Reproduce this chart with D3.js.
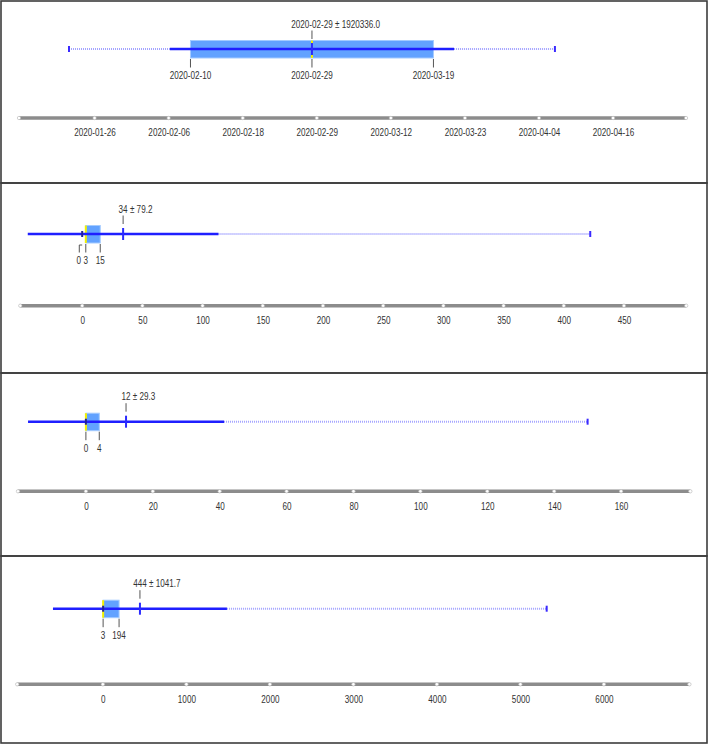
<!DOCTYPE html>
<html>
<head>
<meta charset="utf-8">
<script src="https://cdn.jsdelivr.net/npm/d3@7"></script>
<style>
body { margin: 0; background: #fff; }
text { font-family: "Liberation Sans", Arial, sans-serif; font-size: 11px; fill: #333; }
</style>
</head>
<body>
<script>
// one row per panel; the first panel holds dates (std in seconds)
var isDate = [true, false, false, false];
var mins = ["2020-01-22", 0, 0, 3];
var q1s = ["2020-02-10", 3, 0, 3];
var medians = ["2020-02-29", 3, 0, 3];
var q3s = ["2020-03-19", 15, 4, 194];
var maxs = ["2020-04-07", 422, 150, 5315];
var means = ["2020-02-29", 34, 12, 444];
var stds = [1920336.0, 79.2, 29.3, 1041.7];
var boxLabels = [
    ["2020-02-10", "2020-02-29", "2020-03-19"],
    [0, 3, 15],
    [0, 4],
    [3, 194]
];
var axisDomains = [
    ["2020-01-14T04:20", "2020-04-27T12:00"],
    [-51.4, 501.7],
    [-20.3, 180.7],
    [-1026, 7024]
];
var tickValues = [
    ["2020-01-26T00:00", "2020-02-06T14:02", "2020-02-18T04:05", "2020-02-29T18:07",
     "2020-03-12T08:10", "2020-03-23T22:12", "2020-04-04T12:14", "2020-04-16T02:17"],
    [0, 50, 100, 150, 200, 250, 300, 350, 400, 450],
    [0, 20, 40, 60, 80, 100, 120, 140, 160],
    [0, 1000, 2000, 3000, 4000, 5000, 6000]
];

// layout
var width = 708, height = 744;
var panelTop = [1, 183, 373, 556], panelBottom = 743;
var lineY = [49, 234, 421.7, 608.7];
var axisY = [118, 305.7, 491.3, 684.3];
var axisRange = [[19, 686], [20.3, 686.2], [18, 690.3], [17.2, 689.4]];
var squeeze = 0.74; // narrow the glyphs like the condensed original font

var fmtDate = d3.timeFormat("%Y-%m-%d");
var fmtInt = d3.format("d");
var fmtStd = d3.format(".1f");

var svg = d3.select("body")
    .append("svg")
    .attr("width", width)
    .attr("height", height);

svg.append("rect").attr("width", width).attr("height", height).attr("fill", "#fff");

function label(g, x, y, str) {
    return g.append("text")
        .attr("transform", "translate(" + x + "," + y + ") scale(" + squeeze + ",1)")
        .attr("text-anchor", "middle")
        .text(str);
}

for (var i = 0; i < 4; i++) {
    var dt = isDate[i];
    var val = dt ? function (v) { return new Date(v); } : function (v) { return v; };
    var x = (dt ? d3.scaleTime() : d3.scaleLinear())
        .domain(axisDomains[i].map(val))
        .range(axisRange[i]);
    var y = lineY[i];
    var g = svg.append("g");

    // panel frame
    var bottom = i < 3 ? panelTop[i + 1] : panelBottom;
    g.append("rect")
        .attr("x", 1).attr("y", panelTop[i])
        .attr("width", width - 2).attr("height", bottom - panelTop[i])
        .attr("fill", "none").attr("stroke", "#3c3c3c").attr("stroke-width", 1.6);

    var mean = val(means[i]);
    var lo = dt ? new Date(+mean - stds[i] * 1000) : mean - stds[i];
    var hi = dt ? new Date(+mean + stds[i] * 1000) : mean + stds[i];
    var mn = val(mins[i]), mx = val(maxs[i]);

    // box
    g.append("rect")
        .attr("x", x(val(q1s[i])))
        .attr("y", y - 8.5)
        .attr("width", x(val(q3s[i])) - x(val(q1s[i])))
        .attr("height", 17.5)
        .attr("fill", "#62a2ff")
        .attr("stroke", "#a4cbff")
        .attr("stroke-width", 1);
    g.append("line")
        .attr("x1", x(val(medians[i]))).attr("x2", x(val(medians[i])))
        .attr("y1", y - 8.5).attr("y2", y + 9)
        .attr("stroke", "#f2f200").attr("stroke-width", 2);

    // dotted whiskers to min / max
    if (mn < lo) {
        g.append("line")
            .attr("x1", x(mn)).attr("x2", x(lo)).attr("y1", y).attr("y2", y)
            .attr("stroke", "#a4a4ff").attr("stroke-width", 2).attr("stroke-dasharray", "1 1");
    }
    if (mx > hi) {
        g.append("line")
            .attr("x1", x(hi)).attr("x2", x(mx)).attr("y1", y).attr("y2", y)
            .attr("stroke", "#a4a4ff").attr("stroke-width", 2).attr("stroke-dasharray", "1 1");
    }
    // mean +- std
    g.append("line")
        .attr("x1", x(lo)).attr("x2", x(hi)).attr("y1", y).attr("y2", y)
        .attr("stroke", "#1f1fff").attr("stroke-width", 2.6);

    // min / max markers
    [mn, mx].forEach(function (v, k) {
        g.append("line")
            .attr("x1", x(v)).attr("x2", x(v)).attr("y1", y - 3).attr("y2", y + 3)
            .attr("stroke", k == 0 && !(mn < lo) ? "#22229a" : "#3a2aff").attr("stroke-width", 2);
    });

    // mean tick + label (mean value centred on the tick, "± std" trailing)
    g.append("line")
        .attr("x1", x(mean)).attr("x2", x(mean)).attr("y1", y - 6).attr("y2", y + 6)
        .attr("stroke", "#2a2aff").attr("stroke-width", 2);
    g.append("line")
        .attr("x1", x(mean)).attr("x2", x(mean)).attr("y1", y - 18.5).attr("y2", y - 10)
        .attr("stroke", "#555").attr("stroke-width", 1);
    var mt = label(g, x(mean), y - 21.5, "").attr("text-anchor", "start");
    var first = mt.append("tspan").text(dt ? fmtDate(mean) : fmtInt(mean));
    mt.append("tspan").text(" \u00b1 " + fmtStd(stds[i]));
    mt.attr("x", -first.node().getComputedTextLength() / 2);

    // labels under the box, pushed left when too close
    var labs = boxLabels[i].map(function (v) { return { px: x(val(v)), text: dt ? v : fmtInt(v) }; });
    labs.forEach(function (d) { d.lx = d.px; });
    for (var k = labs.length - 2; k >= 0; k--) {
        if (labs[k + 1].lx - labs[k].lx < 7) labs[k].lx = labs[k + 1].lx - 7;
    }
    labs.forEach(function (d) {
        var path = d.lx == d.px
            ? "M" + d.px + "," + (y + 10) + "V" + (y + 18.5)
            : "M" + d.px + "," + (y + 11) + "H" + (d.lx + 0.5) + "V" + (y + 18.5);
        g.append("path").attr("d", path).attr("fill", "none")
            .attr("stroke", "#555").attr("stroke-width", 1);
        label(g, d.lx, y + 30, d.text);
    });

    // axis bar
    var ay = axisY[i];
    g.append("line")
        .attr("x1", axisRange[i][0]).attr("x2", axisRange[i][1])
        .attr("y1", ay).attr("y2", ay)
        .attr("stroke", "#8c8c8c").attr("stroke-width", 3.5);
    var ticks = tickValues[i].map(val);
    var dots = [axisRange[i][0]].concat(ticks.map(x)).concat([axisRange[i][1]]);
    g.selectAll(".dot")
        .data(dots)
        .enter()
        .append("circle")
        .attr("cx", function (d) { return d; })
        .attr("cy", ay)
        .attr("r", 1.7)
        .attr("fill", "#fff")
        .attr("stroke", "#b4b4b4")
        .attr("stroke-width", 0.6);

    var axis = d3.axisBottom(x)
        .tickValues(ticks)
        .tickSize(0)
        .tickPadding(10.5)
        .tickFormat(dt ? fmtDate : fmtInt);
    var ag = g.append("g")
        .attr("transform", "translate(0," + ay + ")")
        .call(axis);
    ag.select(".domain").remove();
    ag.attr("font-family", null).attr("font-size", null);
    ag.selectAll("text").attr("transform", "scale(" + squeeze + ",1)");
}
</script>
</body>
</html>
